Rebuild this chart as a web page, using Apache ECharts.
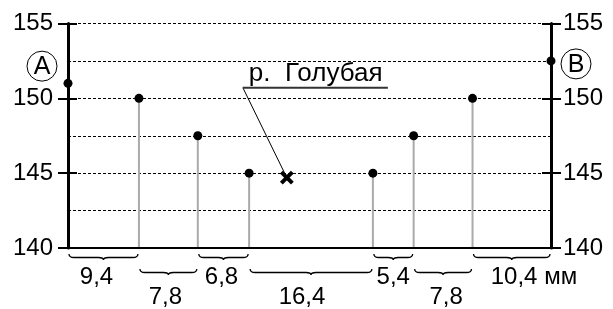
<!DOCTYPE html>
<html>
<head>
<meta charset="utf-8">
<script src="https://cdn.jsdelivr.net/npm/echarts@6/dist/echarts.min.js"></script>
<style>
  html, body { margin: 0; padding: 0; background: #fff; }
  #main { width: 613px; height: 309px; }
</style>
</head>
<body>
<div id="main"></div>
<script>
// distances along the profile, mm
var pointX = [0, 9.4, 17.2, 24.0, 40.4, 45.8, 53.6, 64.0];
// heights, m
var pointH = [151, 150, 147.5, 145, 145, 147.5, 150, 152.5];
// which points have a vertical stem
var hasStem = [false, true, true, true, true, true, true, false];
// segment labels under the axis and row of the brace (0 upper, 1 lower)
var segLabels = ['9,4', '7,8', '6,8', '16,4', '5,4', '7,8', '10,4'];
var segRows = [0, 1, 0, 1, 0, 1, 0];
// river crossing
var river = [29.0, 144.7];
var riverName = 'р.  Голубая';
var yTicks = [140, 145, 150, 155];

var FONT = '"Liberation Sans", Arial, sans-serif';
// small horizontal nudges of the segment labels, px
var labelNudge = [-7, -3, -2, -9, 0, 3, 0];

var myChart = echarts.init(document.getElementById('main'));

var points = [];
var stems = [];
for (var i = 0; i < pointX.length; i++) {
    points.push([pointX[i], pointH[i]]);
    if (hasStem[i]) stems.push([pointX[i], pointH[i]]);
}
var braces = [];
for (var j = 0; j < segLabels.length; j++) {
    braces.push([pointX[j], pointX[j + 1], segRows[j], j]);
}

function yAxisBase(pos, inside, labels) {
    return {
        type: 'value', position: pos, min: yTicks[0], max: yTicks[yTicks.length - 1], interval: 5,
        axisLine: { show: !inside, lineStyle: { color: '#000', width: 3 } },
        axisTick: { show: true, inside: inside, length: inside ? 9 : 10, lineStyle: { color: '#000', width: 2 } },
        axisLabel: { show: labels, color: '#000', fontSize: 24, fontFamily: FONT, margin: pos == 'left' ? 15 : 12 },
        splitLine: { show: false }
    };
}

var option = {
    animation: false,
    grid: { left: 68, right: 62, top: 23.5, bottom: 61 },
    xAxis: {
        type: 'value', min: 0, max: 64,
        axisLine: { show: true, onZero: false, lineStyle: { color: '#000', width: 2 } },
        axisTick: { show: false }, axisLabel: { show: false }, splitLine: { show: false }
    },
    yAxis: [
        yAxisBase('left', false, true),
        yAxisBase('left', true, false),
        yAxisBase('right', false, true),
        yAxisBase('right', true, false),
        {
            type: 'value', position: 'left', min: 140, max: 155, interval: 2.5,
            axisLine: { show: false }, axisTick: { show: false }, axisLabel: { show: false },
            splitLine: { show: true, lineStyle: { color: '#000', width: 1, type: [3, 2] } }
        }
    ],
    series: [
        {
            // grey stems
            type: 'custom', clip: false, z: 3,
            data: stems,
            renderItem: function (params, api) {
                var p1 = api.coord([api.value(0), api.value(1)]);
                var p2 = api.coord([api.value(0), 140]);
                return {
                    type: 'line',
                    shape: { x1: p1[0], y1: p1[1], x2: p2[0], y2: p2[1] - 1 },
                    style: { stroke: '#aaa', lineWidth: 2 }
                };
            }
        },
        {
            type: 'scatter', z: 5,
            data: points,
            symbol: 'circle', symbolSize: 9,
            itemStyle: { color: '#000', opacity: 1 }
        },
        {
            // braces and segment lengths under the axis
            type: 'custom', clip: false, z: 4,
            data: braces,
            renderItem: function (params, api) {
                var a = api.coord([api.value(0), 140]);
                var b = api.coord([api.value(1), 140]);
                var row = api.value(2);
                var idx = api.value(3);
                var y0 = a[1] + 6 + row * 15;
                var x1 = a[0] + 1, x2 = b[0] - 1;
                var m = (x1 + x2) / 2;
                var h = 3.5, t = 2.5, r = 5;
                var d = 'M' + x1 + ' ' + y0 +
                    ' Q' + x1 + ' ' + (y0 + h) + ' ' + (x1 + r) + ' ' + (y0 + h) +
                    ' L' + (m - r) + ' ' + (y0 + h) +
                    ' Q' + m + ' ' + (y0 + h) + ' ' + m + ' ' + (y0 + h + t) +
                    ' Q' + m + ' ' + (y0 + h) + ' ' + (m + r) + ' ' + (y0 + h) +
                    ' L' + (x2 - r) + ' ' + (y0 + h) +
                    ' Q' + x2 + ' ' + (y0 + h) + ' ' + x2 + ' ' + y0;
                var txt = segLabels[idx];
                var last = idx == segLabels.length - 1;
                return {
                    type: 'group',
                    children: [
                        { type: 'path', shape: { pathData: d }, style: { fill: null, stroke: '#000', lineWidth: 1.3 } },
                        {
                            type: 'text',
                            style: {
                                text: last ? txt + ' мм' : txt,
                                x: last ? m - 21 : m + labelNudge[idx], y: y0 + 23 + row * 5,
                                align: last ? 'left' : 'center', verticalAlign: 'middle',
                                font: '24px ' + FONT, fill: '#000'
                            }
                        }
                    ]
                };
            }
        },
        {
            // river crossing with leader and label
            type: 'custom', clip: false, z: 6,
            data: [river],
            renderItem: function (params, api) {
                var p = api.coord([api.value(0), api.value(1)]);
                var s = 5.5;
                var lx = p[0] - 44, ly = p[1] - 90;
                return {
                    type: 'group',
                    children: [
                        { type: 'line', shape: { x1: lx, y1: ly, x2: p[0] - 2, y2: p[1] - 4 }, style: { stroke: '#000', lineWidth: 1 } },
                        { type: 'line', shape: { x1: lx, y1: ly, x2: lx + 145, y2: ly }, style: { stroke: '#333', lineWidth: 2 } },
                        {
                            type: 'text',
                            style: { text: riverName, x: lx + 6, y: ly - 1, align: 'left', verticalAlign: 'bottom', font: '26px ' + FONT, fill: '#000' }
                        },
                        { type: 'line', shape: { x1: p[0] - s, y1: p[1] - s, x2: p[0] + s, y2: p[1] + s }, style: { stroke: '#000', lineWidth: 4 } },
                        { type: 'line', shape: { x1: p[0] - s, y1: p[1] + s, x2: p[0] + s, y2: p[1] - s }, style: { stroke: '#000', lineWidth: 4 } }
                    ]
                };
            }
        },
        {
            // circled end marks A and B
            type: 'custom', clip: false, z: 6,
            data: [[0, 152.15, 'A', -26], [64, 152.3, 'B', 25]],
            renderItem: function (params, api) {
                var p = api.coord([api.value(0), api.value(1)]);
                var item = option.series[4].data[params.dataIndex];
                var cx = p[0] + item[3];
                return {
                    type: 'group',
                    children: [
                        { type: 'circle', shape: { cx: cx, cy: p[1], r: 15 }, style: { fill: '#fff', stroke: '#000', lineWidth: 1 } },
                        { type: 'text', style: { text: item[2], x: cx, y: p[1] + 1, align: 'center', verticalAlign: 'middle', font: '25px ' + FONT, fill: '#000' } }
                    ]
                };
            }
        }
    ]
};

myChart.setOption(option);
</script>
</body>
</html>
